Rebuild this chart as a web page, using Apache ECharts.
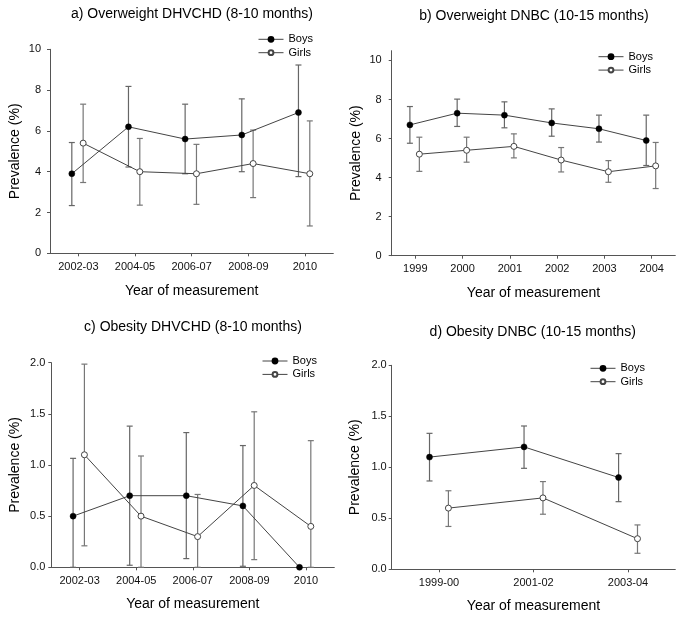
<!DOCTYPE html>
<html>
<head>
<meta charset="utf-8">
<script src="https://cdn.jsdelivr.net/npm/echarts@6/dist/echarts.min.js"></script>
<style>html,body{margin:0;padding:0;background:#fff}#c{width:683px;height:618px}</style>
</head>
<body>
<div id="c"></div>
<script>
// ---- data ----
const catsA = ['2002-03', '2004-05', '2006-07', '2008-09', '2010'];
const boysA = [3.9, 6.2, 5.6, 5.8, 6.9];
const boysALow = [2.34, 4.23, 3.9, 4.0, 3.76];
const boysAHigh = [5.43, 8.18, 7.31, 7.57, 9.23];
const girlsA = [5.4, 4.0, 3.9, 4.4, 3.9];
const girlsALow = [3.47, 2.36, 2.4, 2.73, 1.34];
const girlsAHigh = [7.31, 5.63, 5.34, 6.04, 6.49];

const catsB = ['1999', '2000', '2001', '2002', '2003', '2004'];
const boysB = [6.7, 7.3, 7.2, 6.8, 6.5, 5.9];
const boysBLow = [5.76, 6.62, 6.55, 6.12, 5.82, 4.62];
const boysBHigh = [7.64, 8.02, 7.88, 7.52, 7.2, 7.2];
const girlsB = [5.2, 5.4, 5.6, 4.9, 4.3, 4.6];
const girlsBLow = [4.32, 4.79, 5.01, 4.29, 3.76, 3.44];
const girlsBHigh = [6.07, 6.07, 6.24, 5.54, 4.87, 5.8];

const catsC = ['2002-03', '2004-05', '2006-07', '2008-09', '2010'];
const boysC = [0.5, 0.7, 0.7, 0.6, 0.0];
const boysCLow = [0, 0.02, 0.085, 0.01, 0];
const boysCHigh = [1.065, 1.38, 1.317, 1.19, 0];
const girlsC = [1.1, 0.5, 0.3, 0.8, 0.4];
const girlsCLow = [0.21, 0, 0, 0.075, 0];
const girlsCHigh = [1.986, 1.088, 0.712, 1.52, 1.238];

const catsD = ['1999-00', '2001-02', '2003-04'];
const boysD = [1.1, 1.2, 0.9];
const boysDLow = [0.866, 0.99, 0.663];
const boysDHigh = [1.333, 1.405, 1.134];
const girlsD = [0.6, 0.7, 0.3];
const girlsDLow = [0.42, 0.54, 0.157];
const girlsDHigh = [0.77, 0.86, 0.435];

const titles = ['a) Overweight DHVCHD (8-10 months)', 'b) Overweight DNBC (10-15 months)',
                'c) Obesity DHVCHD (8-10 months)', 'd) Obesity DNBC (10-15 months)'];
const yTicksAB = [0, 2, 4, 6, 8, 10];
const yTicksCD = [0, 0.5, 1.0, 1.5, 2.0];

// ---- chart ----
const FONT = 'Liberation Sans, Arial, Helvetica, sans-serif';
const AX = '#555';
const chart = echarts.init(document.getElementById('c'), null, {renderer: 'canvas'});

const panels = [
  {cats: catsA, b: boysA, bl: boysALow, bh: boysAHigh, g: girlsA, gl: girlsALow, gh: girlsAHigh,
   grid: {left: 50, top: 49.3, width: 283.3, height: 204}, ymax: 10, yt: yTicksAB, dec: 0,
   ob: -0.115, og: 0.085, title: [192, 15.5], legend: [258, 33.3], lm: 9, yng: 28, xng: 31},
  {cats: catsB, b: boysB, bl: boysBLow, bh: boysBHigh, g: girlsB, gl: girlsBLow, gh: girlsBHigh,
   grid: {left: 391.7, top: 50.7, width: 283.6, height: 205}, ymax: 10.5, yt: yTicksAB, dec: 0,
   ob: -0.115, og: 0.085, title: [534, 17], legend: [598, 50.7], lm: 10, yng: 28.5, xng: 30},
  {cats: catsC, b: boysC, bl: boysCLow, bh: boysCHigh, g: girlsC, gl: girlsCLow, gh: girlsCHigh,
   grid: {left: 51.3, top: 362.7, width: 283, height: 204.6}, ymax: 2, yt: yTicksCD, dec: 1,
   ob: -0.115, og: 0.085, title: [193, 328.5], legend: [262, 355], lm: 6, yng: 29, xng: 30},
  {cats: catsD, b: boysD, bl: boysDLow, bh: boysDHigh, g: girlsD, gl: girlsDLow, gh: girlsDHigh,
   grid: {left: 391.7, top: 365.3, width: 283.6, height: 204}, ymax: 2, yt: yTicksCD, dec: 1,
   ob: -0.1, og: 0.1, title: [532.7, 333.5], legend: [590, 362.3], lm: 5, yng: 29.5, xng: 30}
];

function errRender(color) {
  return function (params, api) {
    const x = api.value(0), lo = api.value(1), hi = api.value(2);
    if (hi === lo) return null;
    const a = api.coord([x, hi]);
    const b = api.coord([x, lo]);
    const hw = 3;
    const st = {stroke: color, lineWidth: 1.2};
    return {
      type: 'group',
      children: [
        {type: 'line', shape: {x1: a[0], y1: a[1], x2: b[0], y2: b[1]}, style: st},
        {type: 'line', shape: {x1: a[0] - hw, y1: a[1], x2: a[0] + hw, y2: a[1]}, style: st},
        {type: 'line', shape: {x1: b[0] - hw, y1: b[1], x2: b[0] + hw, y2: b[1]}, style: st}
      ]
    };
  };
}

const option = {
  animation: false,
  backgroundColor: '#fff',
  textStyle: {fontFamily: FONT},
  title: [], legend: [], grid: [], xAxis: [], yAxis: [], series: []
};

panels.forEach((p, k) => {
  const idx = p.cats.map((_, i) => i);
  option.title.push({
    text: titles[k], left: p.title[0], top: p.title[1] - 8, textAlign: 'center', padding: 0,
    textStyle: {fontSize: 14, fontWeight: 'normal', color: '#000', fontFamily: FONT}
  });
  option.legend.push({
    data: ['Boys', 'Girls'], orient: 'vertical', left: p.legend[0], top: p.legend[1], padding: 0,
    itemWidth: 25, itemHeight: 6, itemGap: 1.4, selectedMode: false,
    lineStyle: {width: 1, color: '#444'},
    textStyle: {fontSize: 11, color: '#000', lineHeight: 12, fontFamily: FONT}
  });
  option.grid.push(Object.assign({containLabel: false}, p.grid));
  option.xAxis.push({
    type: 'value', gridIndex: k, min: -0.5, max: p.cats.length - 0.5,
    name: 'Year of measurement', nameLocation: 'middle', nameGap: p.xng,
    nameTextStyle: {fontSize: 14, color: '#000', fontFamily: FONT},
    splitLine: {show: false},
    axisLine: {show: true, onZero: false, lineStyle: {color: AX, width: 1}},
    axisTick: {show: true, length: 3, customValues: idx, lineStyle: {color: AX}},
    axisLabel: {customValues: idx, fontSize: 11, color: '#111', margin: 8, fontFamily: FONT,
                formatter: v => p.cats[Math.round(v)]}
  });
  option.yAxis.push({
    type: 'value', gridIndex: k, min: 0, max: p.ymax,
    name: 'Prevalence (%)', nameLocation: 'middle', nameGap: p.yng, nameRotate: 90,
    nameTextStyle: {fontSize: 14, color: '#000', fontFamily: FONT},
    splitLine: {show: false},
    axisLine: {show: true, onZero: false, lineStyle: {color: AX, width: 1}},
    axisTick: {show: true, length: 3, customValues: p.yt, lineStyle: {color: AX}},
    axisLabel: {customValues: p.yt, fontSize: 11, color: '#111', margin: p.lm, fontFamily: FONT,
                formatter: v => Number(v).toFixed(p.dec)}
  });
  // error bars
  option.series.push({
    type: 'custom', xAxisIndex: k, yAxisIndex: k, z: 1, silent: true,
    renderItem: errRender('#666'), encode: {x: 0, y: [1, 2]},
    data: idx.map(i => [i + p.ob, p.bl[i], p.bh[i]])
  });
  option.series.push({
    type: 'custom', xAxisIndex: k, yAxisIndex: k, z: 1, silent: true,
    renderItem: errRender('#777'), encode: {x: 0, y: [1, 2]},
    data: idx.map(i => [i + p.og, p.gl[i], p.gh[i]])
  });
  // lines
  option.series.push({
    name: 'Boys', type: 'line', xAxisIndex: k, yAxisIndex: k, z: 3,
    symbol: 'circle', symbolSize: 6, showAllSymbol: true,
    lineStyle: {color: '#444', width: 1},
    itemStyle: {color: '#000', borderColor: '#000', borderWidth: 0.5},
    data: idx.map(i => [i + p.ob, p.b[i]])
  });
  option.series.push({
    name: 'Girls', type: 'line', xAxisIndex: k, yAxisIndex: k, z: 3,
    symbol: 'circle', symbolSize: 6, showAllSymbol: true,
    lineStyle: {color: '#444', width: 1},
    itemStyle: {color: '#fff', borderColor: '#444', borderWidth: 1},
    data: idx.map(i => [i + p.og, p.g[i]])
  });
});

chart.setOption(option);
</script>
</body>
</html>
